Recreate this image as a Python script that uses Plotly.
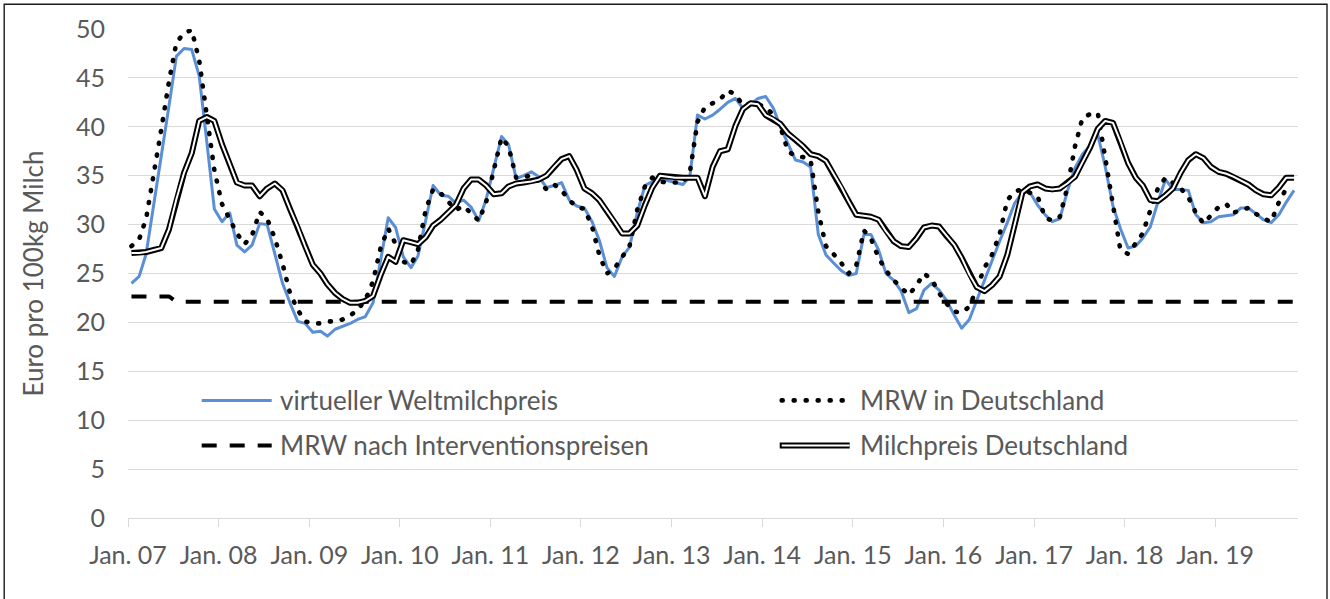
import pandas as pd
import plotly.graph_objects as go

# ---------------- data (monthly, Jan 2007 - Nov 2019) ----------------
months = pd.date_range("2007-01-01", periods=155, freq="MS") + pd.Timedelta(days=14)

weltmilchpreis = [
    24.0, 24.7, 27.0, 32.0, 37.1, 42.1, 47.2, 48.0, 47.9, 45.2, 38.4, 31.6,
    30.3, 31.2, 27.9, 27.2, 27.9, 30.1, 30.0, 27.0, 24.0, 22.0, 20.1, 19.9,
    19.0, 19.1, 18.6, 19.3, 19.6, 19.9, 20.3, 20.6, 22.0, 26.3, 30.7, 29.7,
    26.7, 25.6, 26.8, 30.4, 34.0, 33.0, 32.9, 32.2, 32.5, 31.8, 30.4, 32.6,
    35.8, 39.0, 38.2, 34.7, 35.0, 35.4, 34.9, 33.8, 34.0, 34.3, 32.5, 31.9,
    31.7, 30.3, 28.4, 25.6, 24.7, 26.7, 27.7, 31.2, 34.0, 34.4, 34.6, 34.5,
    34.3, 34.1, 34.9, 41.2, 40.8, 41.2, 41.8, 42.5, 42.9, 41.9, 42.3, 42.9,
    43.1, 41.9, 40.0, 38.3, 36.6, 36.4, 35.9, 29.0, 26.9, 26.1, 25.3, 24.8,
    25.0, 29.0, 29.0, 27.4, 25.0, 24.3, 23.2, 21.0, 21.4, 23.3, 24.0, 23.3,
    22.2, 20.7, 19.4, 20.3, 22.3, 24.3, 26.2, 28.3, 30.2, 32.2, 33.3, 33.3,
    32.0, 31.0, 30.3, 30.6, 33.4, 35.8, 37.2, 38.1, 39.2, 35.9, 31.9, 29.6,
    27.6, 27.8, 28.6, 29.8, 32.3, 34.6, 33.6, 33.6, 33.5, 31.0, 30.2, 30.3,
    30.8, 30.9, 31.0, 31.7, 31.7, 31.1, 30.5, 30.2, 31.0, 32.3, 33.5,
]

mrw_deutschland = [
    27.8, 28.5, 30.6, 34.9, 39.7, 44.6, 48.6, 49.6, 49.9, 46.8, 40.7, 35.6,
    32.1, 30.5, 29.1, 28.0, 28.9, 31.3, 30.6, 28.6, 26.0, 23.0, 21.3, 20.1,
    19.9, 19.9, 20.1, 20.1, 20.3, 20.7, 21.3, 22.3, 24.2, 27.6, 29.6, 28.0,
    26.2, 25.9, 27.4, 31.5, 33.6, 33.2, 32.4, 31.5, 31.9, 31.2, 30.4, 32.3,
    35.5, 38.9, 38.0, 34.8, 34.8, 35.1, 34.4, 33.6, 34.1, 33.5, 32.5, 31.8,
    31.6, 29.8, 26.9, 25.0, 25.5, 26.6, 27.8, 31.5, 33.9, 34.8, 34.4, 34.3,
    34.3, 34.3, 35.3, 40.5, 42.0, 42.4, 42.8, 43.7, 43.3, 42.2, 42.4, 42.3,
    42.0, 41.2, 40.0, 37.5, 37.0, 36.9, 36.6, 31.3, 27.8, 27.0, 26.1, 25.0,
    25.8, 29.4, 28.6, 26.6, 25.3, 24.3, 23.5, 22.8, 23.8, 25.0, 24.4, 23.0,
    21.9, 21.1, 21.0, 21.6, 23.5, 25.6, 26.9, 29.0, 32.5, 33.4, 33.6, 33.3,
    32.9, 30.7, 30.4, 30.8, 33.8, 38.0, 40.9, 41.3, 41.4, 36.8, 32.3, 27.4,
    27.0, 28.1, 29.1, 31.5, 33.7, 34.8, 34.3, 33.7, 32.8, 31.2, 30.1, 30.9,
    31.8, 32.1, 31.2, 31.5, 31.7, 31.1, 30.6, 30.3, 32.3, 33.7, None,
]

mrw_intervention = [22.65] * 6 + [22.1] * 149

milchpreis_deutschland = [
    27.1, 27.1, 27.2, 27.4, 27.6, 29.5, 32.6, 35.3, 37.3, 40.6, 41.0, 40.6,
    38.2, 36.2, 34.3, 34.0, 34.0, 32.9, 33.7, 34.2, 33.5, 31.6, 29.8, 27.8,
    25.9, 25.0, 23.9, 23.0, 22.4, 22.0, 22.0, 22.2, 22.7, 24.8, 26.7, 26.2,
    28.4, 28.2, 28.0, 28.7, 29.9, 30.5, 31.2, 32.0, 33.7, 34.6, 34.6, 34.0,
    33.1, 33.2, 33.9, 34.2, 34.3, 34.4, 34.6, 35.0, 35.9, 36.7, 37.0, 35.6,
    33.7, 33.2, 32.5, 31.4, 30.3, 29.1, 29.1, 29.9, 32.0, 33.8, 35.0, 34.9,
    34.8, 34.8, 34.8, 34.8, 32.9, 35.9, 37.5, 37.7, 40.1, 41.8, 42.4, 42.3,
    41.2, 40.8, 40.3, 39.3, 38.7, 38.0, 37.2, 37.0, 36.5, 35.2, 33.9, 32.4,
    31.0, 30.9, 30.8, 30.5, 29.3, 28.3, 27.8, 27.7, 28.6, 29.7, 29.9, 29.8,
    28.8, 27.9, 26.6, 24.9, 23.6, 23.2, 23.8, 24.7, 26.9, 30.0, 33.3, 33.9,
    34.1, 33.7, 33.6, 33.7, 34.2, 34.9, 36.4, 37.9, 39.8, 40.6, 40.4, 38.5,
    36.3, 34.8, 34.0, 32.5, 32.4, 33.0, 33.7, 35.3, 36.6, 37.2, 36.8, 35.9,
    35.4, 35.2, 34.9, 34.5, 34.1, 33.5, 33.1, 33.0, 33.8, 34.8, 34.8,
]

tick_dates = [f"{y}-01-01" for y in range(2007, 2020)]
tick_labels = [f"Jan. {y % 100:02d}" for y in range(2007, 2020)]

series_names = [
    "virtueller Weltmilchpreis",
    "MRW in Deutschland",
    "MRW nach Interventionspreisen",
    "Milchpreis Deutschland",
]

# ---------------- styling ----------------
FONT = "Lato, 'Liberation Sans', sans-serif"
TXT = "#595959"
GRID = "#d9d9d9"
BLUE = "#5a8fd6"
DOT_DASH = "1px,11px"

fig = go.Figure()
fig.add_trace(go.Scatter(x=months, y=weltmilchpreis, mode="lines", name=series_names[0],
                         line=dict(color=BLUE, width=3), showlegend=False))
fig.add_trace(go.Scatter(x=months, y=mrw_deutschland, mode="lines", name=series_names[1],
                         line=dict(color="black", width=4.6, dash=DOT_DASH), showlegend=False))
fig.add_trace(go.Scatter(x=months, y=mrw_intervention, mode="lines", name=series_names[2],
                         line=dict(color="black", width=4, dash="15px,13px"), showlegend=False))
fig.add_trace(go.Scatter(x=months, y=milchpreis_deutschland, mode="lines", name=series_names[3],
                         line=dict(color="black", width=6), showlegend=False))
fig.add_trace(go.Scatter(x=months, y=milchpreis_deutschland, mode="lines", name=series_names[3],
                         line=dict(color="white", width=2), showlegend=False, hoverinfo="skip"))

# plot-area geometry (pixels) used to place the hand-drawn legend and frame
L, R, T, B = 128.3, 1298.3, 29.3, 518.3
def px(xp):
    return (xp - L) / (R - L)
def py(yp):
    return (B - yp) / (B - T)

shapes = []
annotations = []
legend_items = [
    (0, 202, 272, 278, 400.7),
    (1, 782, 850, 858, 400.7),
    (2, 202, 272, 278, 445.7),
    (3, 782, 850, 858, 445.7),
]
for idx, x0, x1, xt, yr in legend_items:
    yy = py(yr)
    if idx == 0:
        shapes.append(dict(type="line", xref="paper", yref="paper", x0=px(x0), x1=px(x1), y0=yy, y1=yy,
                           line=dict(color=BLUE, width=3)))
    elif idx == 1:
        shapes.append(dict(type="line", xref="paper", yref="paper", x0=px(x0), x1=px(x1), y0=yy, y1=yy,
                           line=dict(color="black", width=4.6, dash=DOT_DASH)))
    elif idx == 2:
        shapes.append(dict(type="line", xref="paper", yref="paper", x0=px(x0), x1=px(x1), y0=yy, y1=yy,
                           line=dict(color="black", width=4, dash="15px,13px")))
    else:
        shapes.append(dict(type="line", xref="paper", yref="paper", x0=px(x0 - 2), x1=px(x1), y0=yy, y1=yy,
                           line=dict(color="black", width=6)))
        shapes.append(dict(type="line", xref="paper", yref="paper", x0=px(x0), x1=px(x1), y0=yy, y1=yy,
                           line=dict(color="white", width=2)))
    annotations.append(dict(xref="paper", yref="paper", x=px(xt), y=yy, xanchor="left", yanchor="middle",
                            text=series_names[idx], showarrow=False,
                            font=dict(family=FONT, size=26, color=TXT)))

# outer frame
shapes.append(dict(type="rect", xref="paper", yref="paper",
                   x0=px(4.5), x1=px(1327.3), y0=py(620), y1=py(4.5),
                   line=dict(color="#1a1a1a", width=1.4), fillcolor="rgba(0,0,0,0)", layer="below"))

fig.update_layout(
    width=1330, height=599,
    margin=dict(l=L, r=1330 - R, t=T, b=599 - B),
    paper_bgcolor="white", plot_bgcolor="white",
    font=dict(family=FONT, size=25, color=TXT),
    showlegend=False,
    shapes=shapes,
    annotations=annotations,
    xaxis=dict(
        type="date",
        range=["2007-01-01", "2019-12-01"],
        tickmode="array", tickvals=tick_dates, ticktext=tick_labels,
        showgrid=False, zeroline=False,
        showline=True, linecolor=GRID, linewidth=1.3,
        ticks="outside", ticklen=8, tickwidth=1.3, tickcolor=GRID,
        ticklabelstandoff=7,
        tickfont=dict(family=FONT, size=25, color=TXT),
    ),
    yaxis=dict(
        range=[0, 50], tickmode="linear", tick0=0, dtick=5,
        showgrid=True, gridcolor=GRID, gridwidth=1.3,
        zeroline=False, showline=False, ticks="",
        ticklabelstandoff=22,
        tickfont=dict(family=FONT, size=25, color=TXT),
        title=dict(text="Euro pro 100kg Milch", standoff=24,
                   font=dict(family=FONT, size=26, color=TXT)),
    ),
)

post = """
document.body.style.margin = '0';
document.body.style.padding = '0';
var gd = document.getElementById('{plot_id}');
gd.querySelectorAll('path').forEach(function(p){
  var d = p.style.strokeDasharray || '';
  if (d.indexOf('1px') === 0) { p.style.strokeLinecap = 'round'; }
  if (p.classList.contains('js-line')) { p.style.strokeLinejoin = 'round'; }
});
"""
fig.write_html("out.html", post_script=post, config={"displayModeBar": False})
